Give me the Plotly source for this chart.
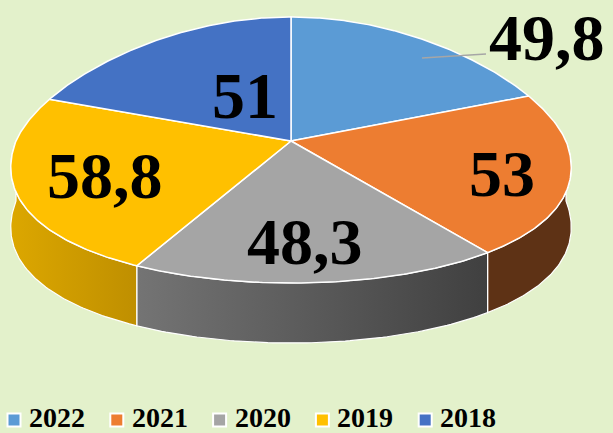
import numpy as np
import plotly.graph_objects as go

# ---- data ----
YEARS = ["2022", "2021", "2020", "2019", "2018"]
VALUES = [49.8, 53, 48.3, 58.8, 51]
LABELS = ["49,8", "53", "48,3", "58,8", "51"]

# ---- styles ----
TOP_COLORS = ["#5B9BD5", "#ED7D31", "#A5A5A5", "#FFC000", "#4472C4"]
WALL_COLORS = [("#3F6D96", "#3F6D96"), ("#5E3215", "#5E3215"), ("#747474", "#404040"),
               ("#DCA700", "#BF8F00"), ("#30508A", "#30508A")]
BG = "#E3F1CB"
FONT = "Liberation Serif, Times New Roman, serif"

# geometry of the tilted pie (pixel space)
CX, CY, A, B_FAR, B_NEAR, K, DEPTH = 291, 141, 275, 124, 142, 0.2, 60
LABEL_POS = [(547, 37), (502, 173), (305, 241), (105, 175), (245, 95)]
LEADER = [(422, 58), (486, 54)]


def proj(t, r=1.0):
    t = np.asarray(t, dtype=float)
    c, s = np.cos(t), np.sin(t)
    b = np.where(c > 0, B_FAR, B_NEAR)
    x = CX + A * r * s * (1 - K * r * c)
    y = CY - b * r * c
    return x, y


fig = go.Figure()
total = sum(VALUES)
bounds = []
acc = 0.0
for v in VALUES:
    t1 = acc / total * 2 * np.pi
    acc += v
    t2 = acc / total * 2 * np.pi
    bounds.append((t1, t2))

# side walls (front half only)
for i, (t1, t2) in enumerate(bounds):
    lo, hi = max(t1, np.pi / 2), min(t2, 3 * np.pi / 2)
    if hi <= lo:
        continue
    ts = np.linspace(lo, hi, 80)
    xt, yt = proj(ts)
    xs = np.concatenate([xt, xt[::-1], xt[:1]])
    ys = np.concatenate([yt, (yt + DEPTH)[::-1], yt[:1]])
    c1, c2 = WALL_COLORS[i]
    fig.add_trace(go.Scatter(
        x=xs, y=ys, mode="lines", fill="toself",
        fillgradient=dict(type="horizontal", colorscale=[[0, c1], [1, c2]]),
        line=dict(color="white", width=1.2), hoverinfo="skip", showlegend=False))

# top faces
for i, (t1, t2) in enumerate(bounds):
    ts = np.linspace(t1, t2, 120)
    xa, ya = proj(ts)
    xs = np.concatenate([[CX], xa, [CX]])
    ys = np.concatenate([[CY], ya, [CY]])
    fig.add_trace(go.Scatter(
        x=xs, y=ys, mode="lines", fill="toself", fillcolor=TOP_COLORS[i],
        line=dict(color="white", width=1.5), name=YEARS[i],
        hoverinfo="name", showlegend=False))

# leader line for the outside label
fig.add_trace(go.Scatter(x=[p[0] for p in LEADER], y=[p[1] for p in LEADER], mode="lines",
                         line=dict(color="#A6A6A6", width=1.5), hoverinfo="skip", showlegend=False))

annotations = []
for lab, (x, y) in zip(LABELS, LABEL_POS):
    annotations.append(dict(x=x, y=y, xref="x", yref="y", text="<b>%s</b>" % lab, showarrow=False,
                            font=dict(family=FONT, size=66, color="black"),
                            xanchor="center", yanchor="middle"))

# legend (manual, bottom)
LEG_X0, LEG_DX, LEG_Y = 14, 102.8, 419
leg_x = [LEG_X0 + i * LEG_DX for i in range(len(YEARS))]
fig.add_trace(go.Scatter(x=leg_x, y=[LEG_Y + 1] * len(YEARS), mode="markers",
                         marker=dict(symbol="square", size=13, color=TOP_COLORS,
                                     line=dict(color="white", width=2)),
                         hoverinfo="skip", showlegend=False))
for x, yr in zip(leg_x, YEARS):
    annotations.append(dict(x=x + 13, y=LEG_Y - 2, xref="x", yref="y", text="<b>%s</b>" % yr,
                            showarrow=False, font=dict(family=FONT, size=28, color="black"),
                            xanchor="left", yanchor="middle"))

fig.update_layout(
    width=613, height=433, margin=dict(l=0, r=0, t=0, b=0),
    paper_bgcolor=BG, plot_bgcolor=BG,
    xaxis=dict(range=[0, 613], visible=False, fixedrange=True),
    yaxis=dict(range=[433, 0], visible=False, fixedrange=True),
    annotations=annotations, showlegend=False,
)
fig.write_html("out.html", config={"displayModeBar": False},
               post_script="document.body.style.margin='0';document.body.style.background='%s';" % BG)
